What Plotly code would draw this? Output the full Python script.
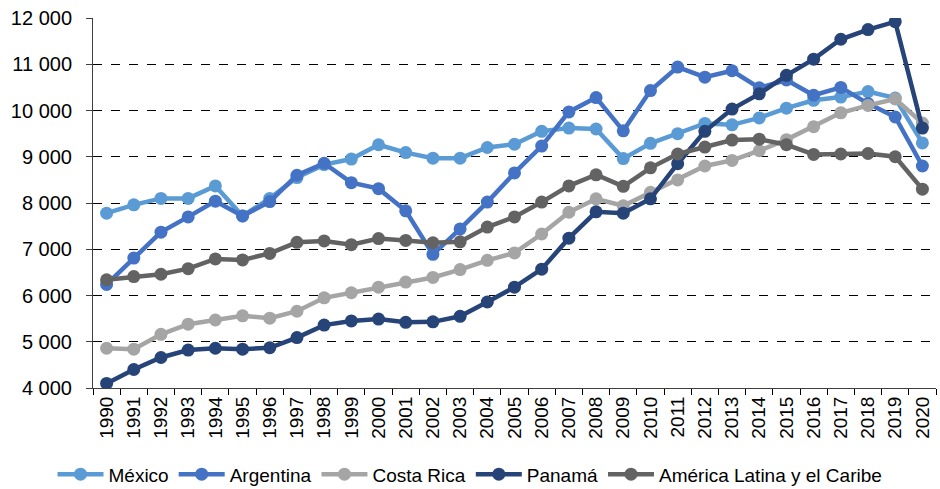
import plotly.graph_objects as go

years = [str(y) for y in range(1990, 2021)]

mexico = [7780, 7960, 8100, 8100, 8370, 7720, 8100, 8550, 8830, 8950,
          9260, 9090, 8970, 8970, 9200, 9270, 9550, 9620, 9600, 8960,
          9290, 9500, 9720, 9690, 9840, 10050, 10220, 10290, 10410, 10270,
          9300]
argentina = [6240, 6810, 7370, 7700, 8040, 7720, 8030, 8600, 8860, 8440,
             8310, 7830, 6890, 7440, 8020, 8650, 9230, 9970, 10280, 9560,
             10430, 10940, 10720, 10860, 10490, 10660, 10330, 10500, 10150, 9860,
             8800]
costa_rica = [4860, 4840, 5160, 5380, 5470, 5560, 5510, 5660, 5950, 6060,
              6180, 6290, 6390, 6560, 6760, 6920, 7330, 7800, 8090, 7940,
              8230, 8500, 8800, 8920, 9130, 9370, 9650, 9950, 10110, 10250,
              9730]
panama = [4100, 4400, 4660, 4820, 4860, 4840, 4870, 5090, 5360, 5450,
          5490, 5420, 5430, 5550, 5860, 6180, 6570, 7240, 7810, 7780,
          8090, 8850, 9550, 10030, 10360, 10760, 11110, 11540, 11750, 11920,
          9620]
alc = [6340, 6410, 6460, 6580, 6790, 6770, 6910, 7150, 7180, 7100,
       7230, 7190, 7140, 7160, 7480, 7700, 8020, 8370, 8610, 8360,
       8760, 9060, 9210, 9360, 9380, 9260, 9050, 9060, 9070, 9000,
       8300]

series = [
    ("México", mexico, "#5B9BD5"),
    ("Argentina", argentina, "#4472C4"),
    ("Costa Rica", costa_rica, "#A5A5A5"),
    ("Panamá", panama, "#264478"),
    ("América Latina y el Caribe", alc, "#636363"),
]

fig = go.Figure()
for name, vals, color in series:
    fig.add_trace(go.Scatter(
        x=years, y=vals, name=name, mode="lines+markers",
        line=dict(color=color, width=4.5),
        marker=dict(color=color, size=13),
    ))

font_family = "Liberation Sans, Arial, sans-serif"

fig.update_layout(
    width=940, height=489,
    margin=dict(l=93, r=4, t=18, b=101),
    paper_bgcolor="white", plot_bgcolor="white",
    separators=", ",
    font=dict(family=font_family, size=19, color="#000000"),
    showlegend=True,
    legend=dict(
        orientation="h", x=0.5, xanchor="center", xref="container",
        y=0.03, yanchor="middle", yref="container",
        font=dict(size=19, color="#000000"),
        itemwidth=46, tracegroupgap=0,
        bgcolor="rgba(0,0,0,0)",
    ),
    xaxis=dict(
        type="category", tickangle=-90, tickson="boundaries",
        ticks="outside", ticklen=6, tickcolor="#000000", tickwidth=1,
        showline=True, linecolor="#404040", linewidth=1, automargin=False,
        showgrid=False, tickfont=dict(size=19), range=[-0.5, 30.5],
    ),
    yaxis=dict(
        range=[4000, 12000], dtick=1000, tickformat=",d",
        ticks="outside", ticklen=6, tickcolor="#404040", automargin=False,
        showline=True, linecolor="#404040", linewidth=1,
        showgrid=True, gridcolor="#000000", gridwidth=1, griddash="dash",
        zeroline=False, tickfont=dict(size=20), ticklabelstandoff=10,
    ),
)

fig.write_html("out.html", config={"displayModeBar": False},
               post_script="document.body.style.margin='0';")
